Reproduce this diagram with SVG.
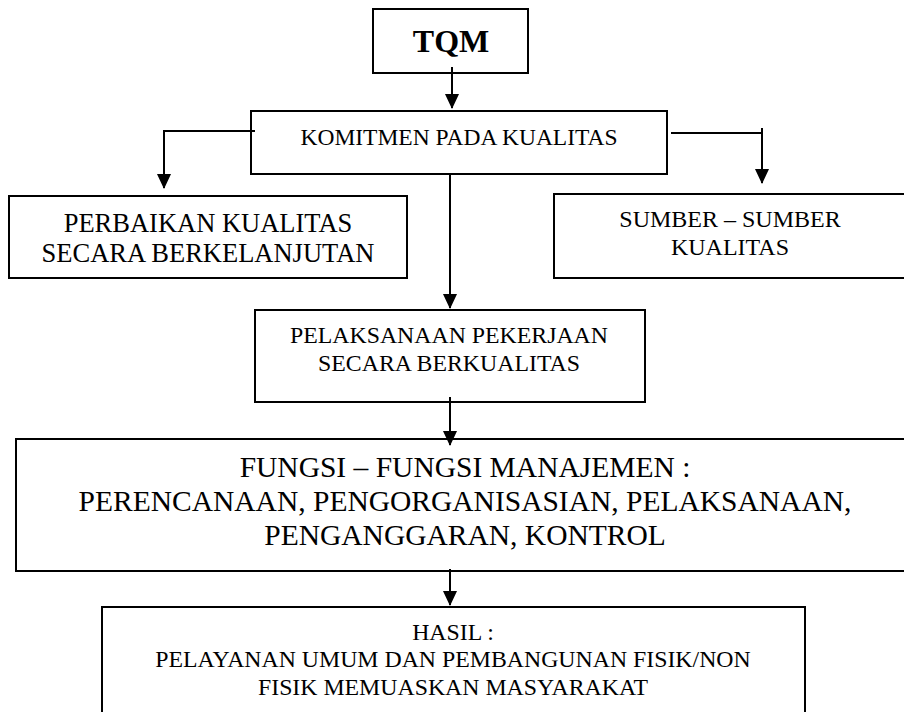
<svg xmlns="http://www.w3.org/2000/svg" width="904" height="712" viewBox="0 0 904 712">
<style>
.box{fill:#fff;stroke:#000;stroke-width:2}
.t{font-family:"Liberation Serif","Times New Roman",serif;fill:#000;text-anchor:middle}
.c{fill:none;stroke:#000;stroke-width:2}
</style>
<defs>
<marker id="ah" markerUnits="userSpaceOnUse" markerWidth="15" markerHeight="14" viewBox="0 0 15 14" refX="14" refY="7" orient="auto">
<path d="M0,0 L15,7 L0,14 z" fill="#000"/>
</marker>
</defs>
<rect width="904" height="712" fill="#fff"/>
<g id="tqm">
<rect class="box" x="373" y="9" width="155" height="64"/>
<text class="t" x="451" y="52" font-size="32" font-weight="bold">TQM</text>
</g>
<g id="komitmen">
<rect class="box" x="251" y="111" width="416" height="63"/>
<text class="t" x="459" y="145" font-size="23.5">KOMITMEN PADA KUALITAS</text>
</g>
<g id="perbaikan">
<rect class="box" x="9" y="196" width="398" height="82"/>
<text class="t" x="208" y="232" font-size="26.5">PERBAIKAN KUALITAS</text>
<text class="t" x="208" y="262" font-size="26.5">SECARA BERKELANJUTAN</text>
</g>
<g id="sumber">
<rect class="box" x="554" y="194" width="360" height="84"/>
<text class="t" x="730" y="227" font-size="24">SUMBER – SUMBER</text>
<text class="t" x="730" y="255" font-size="24">KUALITAS</text>
</g>
<g id="pelaksanaan">
<rect class="box" x="255" y="310" width="390" height="92"/>
<text class="t" x="449" y="343" font-size="23.8">PELAKSANAAN PEKERJAAN</text>
<text class="t" x="449" y="371" font-size="23.8">SECARA BERKUALITAS</text>
</g>
<g id="fungsi">
<rect class="box" x="16" y="439" width="900" height="132"/>
<text class="t" x="465" y="477" font-size="29.5">FUNGSI – FUNGSI MANAJEMEN :</text>
<text class="t" x="465" y="511" font-size="29.5">PERENCANAAN, PENGORGANISASIAN, PELAKSANAAN,</text>
<text class="t" x="465" y="545" font-size="29.5">PENGANGGARAN, KONTROL</text>
</g>
<g id="hasil">
<rect class="box" x="102" y="607" width="703" height="115"/>
<text class="t" x="453" y="640" font-size="23.8">HASIL :</text>
<text class="t" x="453" y="667" font-size="23.8">PELAYANAN UMUM DAN PEMBANGUNAN FISIK/NON</text>
<text class="t" x="453" y="695" font-size="23.8">FISIK MEMUASKAN MASYARAKAT</text>
</g>
<g id="connectors">
<path class="c" d="M452,67 V108" marker-end="url(#ah)"/>
<path class="c" d="M255,131 H164 V188" marker-end="url(#ah)"/>
<path class="c" d="M671,133 H762"/>
<path class="c" d="M762,128 V183" marker-end="url(#ah)"/>
<path class="c" d="M450,174 V308" marker-end="url(#ah)"/>
<path class="c" d="M450,397 V445" marker-end="url(#ah)"/>
<path class="c" d="M450,569 V605" marker-end="url(#ah)"/>
</g>
</svg>
